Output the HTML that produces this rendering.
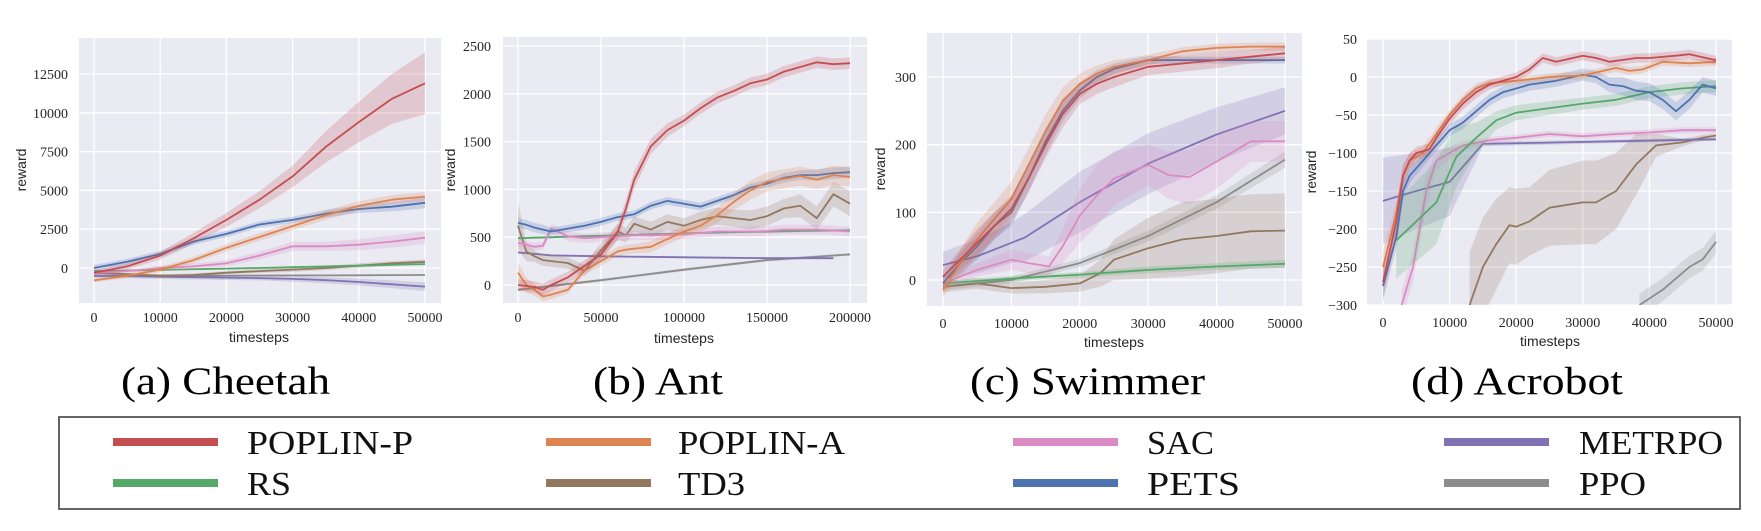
<!DOCTYPE html>
<html><head><meta charset="utf-8"><style>
html,body{margin:0;padding:0;background:#fff;}
svg{display:block;}
.tick{font-family:"Liberation Serif",serif;font-size:14px;fill:#262626;}
.lab{font-family:"Liberation Sans",sans-serif;font-size:14px;fill:#262626;}
.cap{font-family:"Liberation Serif",serif;font-size:39px;fill:#000;}
.leg{font-family:"Liberation Serif",serif;font-size:34px;fill:#111;}
</style></head><body>
<svg id="fig" width="1761" height="531" viewBox="0 0 1761 531" xmlns="http://www.w3.org/2000/svg"></svg>
<script>
// ---------- Cheetah ----------
const cheetahX = [0,5000,10000,15000,20000,25000,30000,35000,40000,45000,50000];
const cheetahPoplinP = [-300,100,800,1900,3100,4400,5900,7800,9400,10900,11900];
const cheetahPoplinPBand = [150,200,250,350,450,550,700,1000,1300,1600,2000];
const cheetahPoplinA = [-800,-500,-100,500,1300,2000,2700,3400,4000,4400,4600];
const cheetahPoplinABand = [120,150,180,200,220,250,280,300,300,300,300];
const cheetahPets = [0,400,900,1700,2200,2800,3100,3500,3800,3950,4200];
const cheetahPetsBand = [200,200,200,200,200,200,200,250,250,300,350];
const cheetahSac = [-300,-200,0,100,300,800,1400,1400,1500,1700,1950];
const cheetahSacBand = [100,100,150,200,200,250,300,300,350,400,400];
const cheetahRs = [-200,-160,-120,-80,-40,0,50,100,150,200,250];
const cheetahRsBand = [40,40,40,40,40,40,40,40,40,40,40];
const cheetahTd3 = [-300,-400,-500,-450,-300,-200,-100,0,150,300,400];
const cheetahTd3Band = [100,100,100,100,100,120,150,150,150,150,150];
const cheetahMetrpo = [-500,-520,-560,-590,-620,-650,-700,-780,-900,-1050,-1200];
const cheetahMetrpoBand = [150,150,150,150,150,150,180,200,220,250,280];
const cheetahPpo = [-500,-500,-495,-490,-490,-485,-480,-475,-470,-460,-450];
const cheetahPpoBand = [20,20,20,20,20,20,20,20,20,20,20];

// ---------- Ant ----------
const antX = [0,5000,10000,15000,20000,30000,40000,50000,60000,65000,70000,80000,90000,100000,110000,120000,130000,140000,150000,160000,170000,180000,190000,200000];
const antPoplinP = [0,-10,-20,-50,0,80,200,320,550,800,1100,1450,1620,1720,1850,1960,2030,2110,2150,2230,2280,2330,2310,2320];
const antPoplinPBand = [60,60,60,60,60,60,60,70,80,90,90,80,70,60,60,60,60,60,60,60,60,60,60,60];
const antPets = [650,630,600,580,560,590,620,660,710,725,740,830,880,850,820,880,940,1020,1060,1120,1150,1150,1170,1180];
const antPetsBand = [50,50,50,50,40,40,40,40,40,40,40,40,40,40,40,40,40,40,40,50,50,60,60,60];
const antPoplinA = [130,0,-50,-120,-100,-50,150,250,350,370,380,400,480,560,620,730,870,990,1080,1110,1140,1100,1150,1130];
const antPoplinABand = [100,80,60,50,50,40,40,50,50,50,50,60,60,60,70,80,90,100,100,100,100,100,100,100];
const antTd3 = [620,350,300,260,250,230,150,360,560,520,640,580,660,620,680,720,700,680,720,800,830,700,950,850];
const antTd3Band = [250,100,60,60,60,60,60,80,80,80,80,80,80,80,90,90,90,100,100,100,120,120,130,130];
const antSac = [440,420,400,410,590,510,490,500,510,515,520,520,525,530,545,560,560,560,565,580,580,580,570,560];
const antSacBand = [40,40,40,40,50,50,50,50,50,50,50,50,50,50,50,50,50,50,50,50,50,50,50,50];
const antRs = [490,492,495,497,500,505,510,515,520,522,525,530,535,540,545,548,552,555,558,562,565,568,570,572];
const antRsBand = [12,12,12,12,12,12,12,12,12,12,12,12,12,12,12,12,12,12,12,12,12,12,12,12];
const antMetrpoX = [0,10000,20000,50000,100000,150000,190000];
const antMetrpo = [340,325,310,300,290,280,280];
const antMetrpoBand = [10,10,10,10,10,10,10];
const antPpoX = [0,50000,100000,150000,200000];
const antPpo = [-50,50,160,260,320];
const antPpoBand = [15,15,15,15,15];

// ---------- Swimmer ----------
const swimX = [0,2500,5000,7500,10000,12500,15000,17500,20000,22500,25000,30000,35000,40000,45000,50000];
const swimPoplinP = [5,30,55,80,105,150,200,245,275,290,300,315,320,325,330,335];
const swimPoplinPBand = [10,15,20,20,20,20,20,20,15,15,15,12,12,12,10,10];
const swimPoplinA = [-15,25,60,90,120,170,220,265,290,305,315,325,338,343,345,345];
const swimPoplinABand = [10,20,25,25,25,25,25,20,15,12,10,8,6,6,6,6];
const swimPets = [-5,25,50,80,100,150,205,250,280,300,312,325,325,325,325,325];
const swimPetsBand = [10,15,20,20,20,20,20,15,12,10,8,6,5,5,5,5];
const swimMetrpoX = [0,5000,10000,12000,20000,30000,40000,50000];
const swimMetrpo = [22,35,55,63,115,172,215,250];
const swimMetrpoBand = [20,25,30,35,45,45,40,35];
const swimSacX = [0,5000,10000,12500,15500,17500,20000,22500,25000,27500,30000,33000,36000,40000,45000,50000];
const swimSac = [-5,15,30,25,20,50,95,125,150,160,170,155,152,175,205,205];
const swimSacBand = [10,10,15,15,15,25,40,45,40,35,30,35,40,40,30,30];
const swimPpoX = [0,10000,20000,30000,40000,50000];
const swimPpo = [-10,0,25,65,115,178];
const swimPpoBand = [5,5,6,8,10,12];
const swimTd3X = [0,5000,10000,15000,20000,23000,25000,30000,35000,40000,45000,50000];
const swimTd3 = [-10,-5,-12,-10,-5,10,30,47,60,65,72,73];
const swimTd3Band = [8,8,8,10,12,20,30,45,55,55,55,55];
const swimRsX = [0,10000,20000,30000,40000,50000];
const swimRs = [-5,2,8,15,20,24];
const swimRsBand = [4,4,4,5,5,6];

// ---------- Acrobot ----------
const acroPoplinPX = [0,1000,2000,3000,4000,5000,7000,8000,10000,12000,14000,16000,18000,20000,22000,24000,26000,30000,32000,34000,38000,40000,44000,46000,50000];
const acroPoplinP = [-270,-230,-190,-130,-110,-100,-95,-80,-55,-35,-20,-10,-5,0,10,25,20,28,25,20,25,25,28,30,22];
const acroPoplinPBand = [20,20,20,15,10,8,8,8,8,8,8,6,6,6,6,6,6,6,6,6,6,6,6,6,6];
const acroPoplinAX = [0,2000,3000,4000,6000,8000,10000,12000,14000,16000,20000,25000,30000,35000,37000,39000,42000,46000,50000];
const acroPoplinA = [-250,-180,-130,-110,-100,-75,-50,-30,-15,-8,-5,0,2,12,8,10,20,18,20];
const acroPoplinABand = [20,15,12,10,8,8,6,6,6,5,5,5,5,5,5,5,5,5,5];
const acroPetsX = [0,2000,3000,4000,6000,8000,10000,12000,14000,16000,18000,22000,26000,30000,32000,34000,36000,38000,40000,42000,44000,46000,48000,50000];
const acroPets = [-275,-210,-150,-130,-110,-90,-70,-60,-45,-30,-20,-10,-5,3,0,-10,-12,-18,-20,-30,-45,-30,-10,-15];
const acroPetsBand = [20,15,12,10,8,8,8,8,8,8,8,8,8,8,8,10,12,12,12,12,12,12,10,10];
const acroRsX = [2000,8000,11000,14000,17000,20000,30000,35000,40000,45000,50000];
const acroRs = [-215,-165,-105,-80,-57,-47,-35,-30,-20,-15,-12];
const acroRsBand = [50,55,40,20,12,10,8,8,8,8,8];
const acroSacX = [2800,4500,6500,8000,10000,12000,16000,20000,25000,30000,35000,40000,45000,50000];
const acroSac = [-300,-250,-150,-110,-100,-90,-83,-80,-75,-78,-75,-73,-70,-70];
const acroSacBand = [20,20,20,12,8,6,4,4,4,4,4,4,4,4];
const acroMetrpoX = [0,5000,10000,15000,50000];
const acroMetrpo = [-163,-150,-138,-88,-82];
const acroMetrpoBand = [57,50,45,3,2];
const acroTd3X = [13000,15000,17000,19000,20000,22000,25000,30000,32000,35000,38000,41000,45000,48000,50000];
const acroTd3 = [-300,-250,-220,-195,-197,-190,-172,-165,-165,-150,-115,-90,-86,-80,-77];
const acroTd3Band = [70,65,60,50,50,45,50,55,55,50,40,15,5,4,3];
const acroPpoX = [38500,42000,46000,48000,50000];
const acroPpo = [-300,-280,-250,-240,-217];
const acroPpoBand = [15,15,15,15,15];

const C = {red:'#C44E52',orange:'#DD8452',green:'#55A868',pink:'#DA8BC3',purple:'#8172B3',brown:'#937860',blue:'#4C72B0',gray:'#8C8C8C'};
const NS = 'http://www.w3.org/2000/svg';
const svg = document.getElementById('fig');
function mk(tag, attrs, parent){const e=document.createElementNS(NS,tag);for(const k in attrs)e.setAttribute(k,attrs[k]);(parent||svg).appendChild(e);return e;}
function lin(d0,d1,r0,r1){return v=>r0+(v-d0)*(r1-r0)/(d1-d0);}

const charts = [
 {id:'cheetah',L:79,R:441,T:38,B:303,xs:lin(0,50000,94,425),ys:lin(0,12500,268,74),
  xt:[0,10000,20000,30000,40000,50000],yt:[0,2500,5000,7500,10000,12500],ylx:68,xly:322,xlabX:259,xlabY:342,rx:21,ry:170,
  series:[['gray',cheetahX,cheetahPpo,cheetahPpoBand],['purple',cheetahX,cheetahMetrpo,cheetahMetrpoBand],['brown',cheetahX,cheetahTd3,cheetahTd3Band],['green',cheetahX,cheetahRs,cheetahRsBand],['pink',cheetahX,cheetahSac,cheetahSacBand],['blue',cheetahX,cheetahPets,cheetahPetsBand],['orange',cheetahX,cheetahPoplinA,cheetahPoplinABand],['red',cheetahX,cheetahPoplinP,cheetahPoplinPBand]]},
 {id:'ant',L:503,R:867,T:37,B:303,xs:lin(0,200000,518,850),ys:lin(0,2500,285,46),
  xt:[0,50000,100000,150000,200000],yt:[0,500,1000,1500,2000,2500],ylx:491,xly:322,xlabX:684,xlabY:343,rx:450,ry:170,
  series:[['gray',antPpoX,antPpo,antPpoBand],['purple',antMetrpoX,antMetrpo,antMetrpoBand],['brown',antX,antTd3,antTd3Band],['green',antX,antRs,antRsBand],['pink',antX,antSac,antSacBand],['blue',antX,antPets,antPetsBand],['orange',antX,antPoplinA,antPoplinABand],['red',antX,antPoplinP,antPoplinPBand]]},
 {id:'swimmer',L:927,R:1302,T:33,B:306,xs:lin(0,50000,943,1285),ys:lin(0,300,280,77),
  xt:[0,10000,20000,30000,40000,50000],yt:[0,100,200,300],ylx:916,xly:328,xlabX:1114,xlabY:347,rx:880,ry:169,
  series:[['gray',swimPpoX,swimPpo,swimPpoBand],['brown',swimTd3X,swimTd3,swimTd3Band],['green',swimRsX,swimRs,swimRsBand],['purple',swimMetrpoX,swimMetrpo,swimMetrpoBand],['pink',swimSacX,swimSac,swimSacBand],['blue',swimX,swimPets,swimPetsBand],['orange',swimX,swimPoplinA,swimPoplinABand],['red',swimX,swimPoplinP,swimPoplinPBand]]},
 {id:'acrobot',L:1367,R:1732,T:39,B:305,xs:lin(0,50000,1383,1716),ys:lin(0,-300,77,305),
  xt:[0,10000,20000,30000,40000,50000],yt:[50,0,-50,-100,-150,-200,-250,-300],ylx:1357,xly:327,xlabX:1550,xlabY:346,rx:1311,ry:172,
  series:[['gray',acroPpoX,acroPpo,acroPpoBand],['brown',acroTd3X,acroTd3,acroTd3Band],['purple',acroMetrpoX,acroMetrpo,acroMetrpoBand],['pink',acroSacX,acroSac,acroSacBand],['green',acroRsX,acroRs,acroRsBand],['blue',acroPetsX,acroPets,acroPetsBand],['orange',acroPoplinAX,acroPoplinA,acroPoplinABand],['red',acroPoplinPX,acroPoplinP,acroPoplinPBand]]}
];
const names = {red:'poplin-p',orange:'poplin-a',green:'rs',pink:'sac',purple:'metrpo',brown:'td3',blue:'pets',gray:'ppo'};

const defs = mk('defs',{});
charts.forEach(ch=>{
  const g = mk('g',{});
  
  
  const cp = mk('clipPath',{id:'clip-'+ch.id},defs);
  mk('rect',{x:ch.L,y:ch.T,width:ch.R-ch.L,height:ch.B-ch.T},cp);
  const bg = mk('rect',{x:ch.L,y:ch.T,width:ch.R-ch.L,height:ch.B-ch.T,fill:'#EAEAF2'},g);
  
  
  ch.xt.forEach(t=>{
    const x = ch.xs(t);
    mk('line',{x1:x,x2:x,y1:ch.T,y2:ch.B,stroke:'#fff','stroke-width':1.3},g);
    const tx = mk('text',{x:x,y:ch.xly,'text-anchor':'middle',class:'tick'},g);
    tx.textContent = String(t);
    
    
  });
  ch.yt.forEach(t=>{
    const y = ch.ys(t);
    mk('line',{x1:ch.L,x2:ch.R,y1:y,y2:y,stroke:'#fff','stroke-width':1.3},g);
    const ty = mk('text',{x:ch.ylx,y:y+5,'text-anchor':'end',class:'tick'},g);
    ty.textContent = t<0 ? '\u2212'+Math.abs(t) : String(t);
    
    
  });
  const xl = mk('text',{x:ch.xlabX,y:ch.xlabY,'text-anchor':'middle',class:'lab'},g);
  xl.textContent='timesteps';
  
  
  const yl = mk('text',{x:ch.rx+5,y:ch.ry,'text-anchor':'middle',class:'lab',transform:'rotate(-90 '+(ch.rx+5)+' '+ch.ry+')'},g);
  yl.textContent='reward';
  
  
  const pg = mk('g',{'clip-path':'url(#clip-'+ch.id+')'},g);
  ch.series.forEach(s=>{
    const [col,xa,ya,ba]=s;
    let up='',dn='',ln='';
    for(let i=0;i<xa.length;i++){
      const px=ch.xs(xa[i]);
      up += (i?'L':'M')+px.toFixed(1)+','+ch.ys(ya[i]+ba[i]).toFixed(1);
      ln += (i?'L':'M')+px.toFixed(1)+','+ch.ys(ya[i]).toFixed(1);
    }
    for(let i=xa.length-1;i>=0;i--){
      dn += 'L'+ch.xs(xa[i]).toFixed(1)+','+ch.ys(ya[i]-ba[i]).toFixed(1);
    }
    const band = mk('path',{d:up+dn+'Z',fill:C[col],'fill-opacity':0.22,stroke:'none'},pg);
    
    
    const line = mk('path',{d:ln,fill:'none',stroke:C[col],'stroke-width':1.8,'stroke-linejoin':'round'},pg);
    
    
  });
});

// captions
const caps = [['(a) Cheetah',121,209],['(b) Ant',593,130],['(c) Swimmer',970,235],['(d) Acrobot',1411,212]];
caps.forEach(c=>{
  const t = mk('text',{x:c[1],y:394,class:'cap',textLength:c[2],lengthAdjust:'spacingAndGlyphs'});
  t.textContent=c[0];
  
  
});

// legend
const lg = mk('g',{});


mk('rect',{x:59,y:417,width:1681,height:92,fill:'#fff',stroke:'#555','stroke-width':1.8},lg);
const legItems = [['red','POPLIN-P',113,247,166,0],['orange','POPLIN-A',546,678,167,0],['pink','SAC',1013,1147,67,0],['purple','METRPO',1444,1579,144,0],
                  ['green','RS',113,247,44,1],['brown','TD3',546,678,67,1],['blue','PETS',1013,1147,93,1],['gray','PPO',1444,1579,67,1]];
legItems.forEach(it=>{
  const cy = it[5]?483:442;
  const sw = mk('rect',{x:it[2],y:cy-4,width:105,height:8,fill:C[it[0]]},lg);
  
  
  const t = mk('text',{x:it[3],y:cy+12,class:'leg',textLength:it[4],lengthAdjust:'spacingAndGlyphs'},lg);
  t.textContent = it[1];
  
  
});
</script>
</body></html>
